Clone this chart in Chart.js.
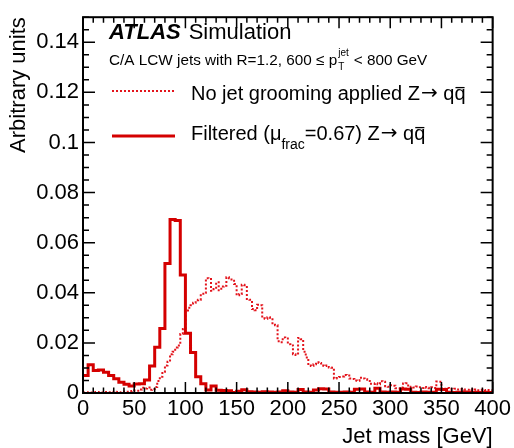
<!DOCTYPE html>
<html lang="en">
<head>
<meta charset="UTF-8">
<title>Jet mass</title>
<script src="https://cdn.jsdelivr.net/npm/chart.js@4"></script>
<style>
html, body { margin: 0; padding: 0; background: #fff; }
</style>
</head>
<body>
<canvas id="c" width="514" height="448"></canvas>
<script>
const FONT = '"Liberation Sans", Arial, Helvetica, sans-serif';
const SYMBOL_FONT = '"DejaVu Sans", sans-serif';

// axis ticks
const xTicks = [0, 50, 100, 150, 200, 250, 300, 350, 400];
const yTicks = [0, 0.02, 0.04, 0.06, 0.08, 0.1, 0.12, 0.14];

// filtered jets, 5 GeV bins from 0 to 400
const filteredBin = 5;
const filtered = [
  0.0070, 0.0113, 0.0090, 0.0092, 0.0083, 0.0070, 0.0057, 0.0043, 0.0035, 0.0028,
  0.0036, 0.0037, 0.0052, 0.0108, 0.0183, 0.0257, 0.0517, 0.0693, 0.0689, 0.0471,
  0.0238, 0.0162, 0.0065, 0.0037, 0.0012, 0.0028, 0.0011, 0.0010, 0.0009, 0.0002,
  0.0007, 0.0013, 0.0005, 0.0004, 0.0003, 0.0005, 0.0004, 0.0003, 0.0004, 0.0009,
  0.0004, 0.0003, 0.0014, 0.0004, 0.0003, 0.0012, 0.0017, 0.0016, 0.0004, 0.0003,
  0.0003, 0.0004, 0.0003, 0.0015, 0.0016, 0.0004, 0.0003, 0.0019, 0.0004, 0.0003,
  0.0004, 0.0003, 0.0016, 0.0015, 0.0003, 0.0002, 0.0004, 0.0003, 0.0003, 0.0015,
  0.0014, 0.0003, 0.0002, 0.0003, 0.0004, 0.0002, 0.0003, 0.0002, 0.0003, 0.0002
];

// no grooming, 2.5 GeV bins from 0 to 400
const ungroomedBin = 2.5;
const ungroomed = [
  0.0002, 0.0002, 0.0003, 0.0002, 0.0003, 0.0004, 0.0003, 0.0002, 0.0003, 0.0004,
  0.0003, 0.0004, 0.0005, 0.0004, 0.0003, 0.0005, 0.0006, 0.0005, 0.0007, 0.0008,
  0.0010, 0.0009, 0.0014, 0.0021, 0.0018, 0.0022, 0.0013, 0.0016, 0.0024, 0.0048,
  0.0065, 0.0085, 0.0110, 0.0125, 0.0155, 0.0165, 0.0182, 0.0190, 0.0235, 0.0255,
  0.0325, 0.0340, 0.0350, 0.0360, 0.0370, 0.0372, 0.0390, 0.0400, 0.0458, 0.0455,
  0.0408, 0.0415, 0.0442, 0.0410, 0.0425, 0.0428, 0.0462, 0.0458, 0.0448, 0.0435,
  0.0390, 0.0395, 0.0432, 0.0430, 0.0375, 0.0372, 0.0335, 0.0330, 0.0352, 0.0350,
  0.0298, 0.0296, 0.0302, 0.0300, 0.0272, 0.0270, 0.0207, 0.0203, 0.0222, 0.0218,
  0.0195, 0.0190, 0.0155, 0.0152, 0.0220, 0.0215, 0.0165, 0.0142, 0.0110, 0.0108,
  0.0115, 0.0123, 0.0120, 0.0110, 0.0108, 0.0110, 0.0102, 0.0101, 0.0058, 0.0060,
  0.0064, 0.0066, 0.0072, 0.0070, 0.0058, 0.0056, 0.0050, 0.0049, 0.0061, 0.0058,
  0.0055, 0.0053, 0.0037, 0.0036, 0.0039, 0.0035, 0.0047, 0.0045, 0.0027, 0.0025,
  0.0031, 0.0029, 0.0019, 0.0018, 0.0022, 0.0038, 0.0039, 0.0024, 0.0025, 0.0022,
  0.0026, 0.0023, 0.0020, 0.0024, 0.0021, 0.0019, 0.0023, 0.0020, 0.0046, 0.0045,
  0.0018, 0.0017, 0.0020, 0.0016, 0.0015, 0.0017, 0.0014, 0.0016, 0.0015, 0.0013,
  0.0013, 0.0015, 0.0012, 0.0014, 0.0011, 0.0013, 0.0012, 0.0010, 0.0012, 0.0011
];

const RED = '#d40000';
const RED_DOT = '#e3131b';
const DOTS = [2, 2];

// one point per bin left edge, plus the closing right edge
function histPoints(values, width) {
  const pts = values.map((v, i) => ({ x: i * width, y: v }));
  pts.push({ x: values.length * width, y: values[values.length - 1] });
  return pts;
}

// "Z-> q qbar" with a long arrow and an overline on the second q
function drawZqq(ctx, x, y, size) {
  ctx.font = size + 'px ' + FONT;
  ctx.fillText('Z', x, y);
  x += ctx.measureText('Z').width + 1;
  ctx.font = size + 'px ' + SYMBOL_FONT;
  ctx.fillText('\u2192', x, y - 1);
  x += ctx.measureText('\u2192').width;
  ctx.font = size + 'px ' + FONT;
  x += ctx.measureText(' ').width;
  ctx.fillText('q', x, y);
  x += ctx.measureText('q').width;
  const w = ctx.measureText('q').width;
  ctx.fillText('q', x, y);
  ctx.beginPath();
  ctx.lineWidth = 1.3;
  ctx.moveTo(x + 1, y - size * 0.62);
  ctx.lineTo(x + w - 1, y - size * 0.62);
  ctx.stroke();
}

const rootFrame = {
  id: 'rootFrame',
  afterDraw(chart) {
    const { ctx, chartArea: a, scales: { x, y } } = chart;
    ctx.save();
    ctx.strokeStyle = '#000';
    ctx.lineWidth = 1.5;
    ctx.beginPath();
    for (let v = 0; v <= 400; v += 10) {
      const px = x.getPixelForValue(v);
      const len = v % 50 === 0 ? 11 : 5.5;
      ctx.moveTo(px, a.bottom); ctx.lineTo(px, a.bottom - len);
      ctx.moveTo(px, a.top); ctx.lineTo(px, a.top + len);
    }
    for (let i = 0; i <= 30; i++) {
      const py = y.getPixelForValue(i * 0.005);
      const len = i % 4 === 0 ? 12 : 6;
      ctx.moveTo(a.left, py); ctx.lineTo(a.left + len, py);
      ctx.moveTo(a.right, py); ctx.lineTo(a.right - len, py);
    }
    ctx.stroke();
    ctx.lineWidth = 2;
    ctx.strokeRect(a.left, a.top, a.right - a.left, a.bottom - a.top);

    // ATLAS label
    ctx.fillStyle = '#000';
    ctx.textBaseline = 'alphabetic';
    ctx.textAlign = 'left';
    ctx.font = 'italic bold 22px ' + FONT;
    ctx.fillText('ATLAS', 109, 39);
    const aw = ctx.measureText('ATLAS').width;
    ctx.font = '22px ' + FONT;
    ctx.fillText('Simulation', 109 + aw + 8, 39);

    // selection text
    let cx = 109;
    const by = 65;
    ctx.font = '15.3px ' + FONT;
    const s1 = 'C/A LCW jets with R=1.2, 600 \u2264 p';
    ctx.fillText(s1, cx, by);
    cx += ctx.measureText(s1).width;
    ctx.font = '10px ' + FONT;
    ctx.fillText('T', cx + 1, by + 5);
    ctx.fillText('jet', cx + 1, by - 9);
    cx += ctx.measureText('jet').width + 6;
    ctx.font = '15.3px ' + FONT;
    ctx.fillText('< 800 GeV', cx, by);

    // legend
    ctx.strokeStyle = RED_DOT;
    ctx.lineWidth = 2;
    ctx.setLineDash(DOTS);
    ctx.beginPath(); ctx.moveTo(112, 91); ctx.lineTo(175, 91); ctx.stroke();
    ctx.setLineDash([]);
    ctx.strokeStyle = RED;
    ctx.lineWidth = 3;
    ctx.beginPath(); ctx.moveTo(112, 136); ctx.lineTo(175, 136); ctx.stroke();

    ctx.strokeStyle = '#000';
    ctx.font = '20px ' + FONT;
    const t1 = 'No jet grooming applied ';
    ctx.fillText(t1, 191, 100);
    drawZqq(ctx, 191 + ctx.measureText(t1).width, 100, 20);

    let lx = 191;
    ctx.font = '20px ' + FONT;
    const t2 = 'Filtered (\u03bc';
    ctx.fillText(t2, lx, 140);
    lx += ctx.measureText(t2).width;
    ctx.font = '14px ' + FONT;
    ctx.fillText('frac', lx, 149);
    lx += ctx.measureText('frac').width;
    ctx.font = '20px ' + FONT;
    const t3 = '=0.67) ';
    ctx.fillText(t3, lx, 140);
    lx += ctx.measureText(t3).width;
    drawZqq(ctx, lx, 140, 20);
    ctx.restore();
  }
};

new Chart(document.getElementById('c'), {
  type: 'line',
  data: {
    datasets: [
      {
        label: 'Filtered (\u03bc_frac=0.67) Z\u2192 qq\u0305',
        data: histPoints(filtered, filteredBin),
        borderColor: RED,
        borderWidth: 3,
        stepped: 'before',
        pointRadius: 0,
        fill: false
      },
      {
        label: 'No jet grooming applied Z\u2192 qq\u0305',
        data: histPoints(ungroomed, ungroomedBin),
        borderColor: RED_DOT,
        borderWidth: 2,
        borderDash: DOTS,
        stepped: 'before',
        pointRadius: 0,
        fill: false
      }
    ]
  },
  options: {
    responsive: false,
    animation: false,
    events: [],
    layout: { padding: { top: 7, right: 21, left: 0, bottom: 0 } },
    plugins: { legend: { display: false }, tooltip: { enabled: false } },
    scales: {
      x: {
        type: 'linear',
        min: 0,
        max: 400,
        grid: { display: false, drawTicks: false },
        border: { display: false },
        afterBuildTicks: s => { s.ticks = xTicks.map(v => ({ value: v })); },
        ticks: { autoSkip: false, maxRotation: 0, padding: 3, color: '#000', font: { family: FONT, size: 22 } },
        title: { display: true, text: 'Jet mass [GeV]', align: 'end', color: '#000', padding: 0, font: { family: FONT, size: 22, lineHeight: 1 } },
        afterFit: s => { s.height = 55; }
      },
      y: {
        min: 0,
        max: 0.15,
        grid: { display: false, drawTicks: false },
        border: { display: false },
        afterBuildTicks: s => { s.ticks = yTicks.map(v => ({ value: v })); },
        ticks: { padding: 4, color: '#000', font: { family: FONT, size: 22 }, callback: v => String(+v.toFixed(2)) },
        title: { display: true, text: 'Arbitrary units', align: 'end', color: '#000', padding: { top: 8, bottom: 0 }, font: { family: FONT, size: 22, lineHeight: 1 } },
        afterFit: s => { s.width = 83; }
      }
    }
  },
  plugins: [rootFrame]
});
</script>
</body>
</html>
